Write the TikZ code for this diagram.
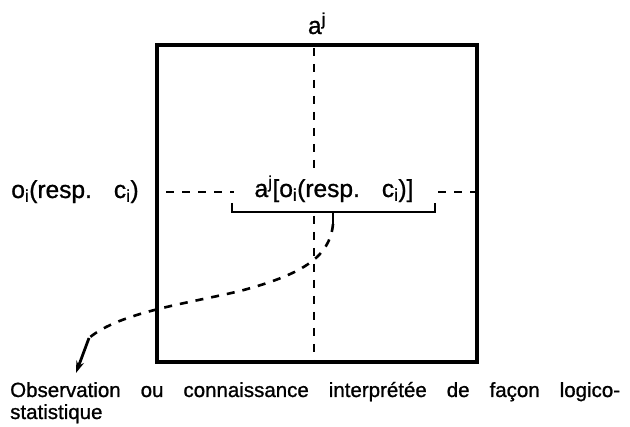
\documentclass[tikz,border=0pt]{standalone}
\usepackage{fontspec}
\setmainfont[FakeBold=1]{Liberation Sans}
\usetikzlibrary{arrows.meta}
\begin{document}
\begin{tikzpicture}[x=1pt,y=-1pt,
  lbl/.style={inner sep=0pt, font=\fontsize{24.5}{28}\selectfont},
  caplbl/.style={inner sep=0pt, font=\fontsize{20.5}{24}\selectfont},
  dsh/.style={line width=2.6pt, dash pattern=on 8pt off 8pt},
  frame/.style={draw, line width=3.2pt, inner sep=0pt, minimum width=320pt, minimum height=317pt},
  bracel/.style={line width=2.8pt},
  arr/.style={line width=2.8pt, -{Stealth[length=12pt,width=8pt]}}]
\useasboundingbox (0,0) rectangle (630,427);
% frame
\node[frame] (box) at (317,203.5) {};
% labels
\node[lbl, anchor=base] (top) at (317,34) {a\textsuperscript{j}};
\node[lbl, anchor=base] (mid) at (334,197) {a\textsuperscript{j}[o\textsubscript{i}(resp.\hspace{0.9em}c\textsubscript{i})]};
\node[lbl, anchor=base] (left) at (75,198) {o\textsubscript{i}(resp.\hspace{0.9em}c\textsubscript{i})};
\node[caplbl, anchor=base west] (cap1) at (10,397) {\makebox[610pt][s]{Observation ou connaissance interprétée de façon logico-}};
\node[caplbl, anchor=base west] (cap2) at (10,419) {statistique};
% coordinates
\coordinate (vtop) at (314,48);
\coordinate (vmid) at (314,174);
\coordinate (vlow) at (314,216);
\coordinate (vbot) at (314,360);
\coordinate (hl) at (166,192);
\coordinate (hlm) at (234,192);
\coordinate (hrm) at (438,192);
\coordinate (hr) at (475,192);
\coordinate (bl) at (232,203);
\coordinate (br) at (435,203);
\coordinate (btip) at (333,212);
\coordinate (cstart) at (333,224);
\coordinate (cmid) at (240,291);
\coordinate (cend) at (89,338);
\coordinate (tip) at (76,373);
% dashed axes
\draw[dsh] (vtop) -- (vmid);
\draw[dsh] (vlow) -- (vbot);
\draw[dsh] (hl) -- (hlm);
\draw[dsh] (hrm) -- (hr);
% brace
\draw[bracel] (bl) -- (bl |- btip) -- (br |- btip) -- (br);
\draw[bracel] (btip) -- (cstart);
% dashed curve
\draw[dsh] (cstart) .. controls (330,258) and (300,275) .. (cmid)
  .. controls (190,303) and (120,312) .. (cend);
\draw[arr] (cend) -- (tip);
\end{tikzpicture}
\end{document}
